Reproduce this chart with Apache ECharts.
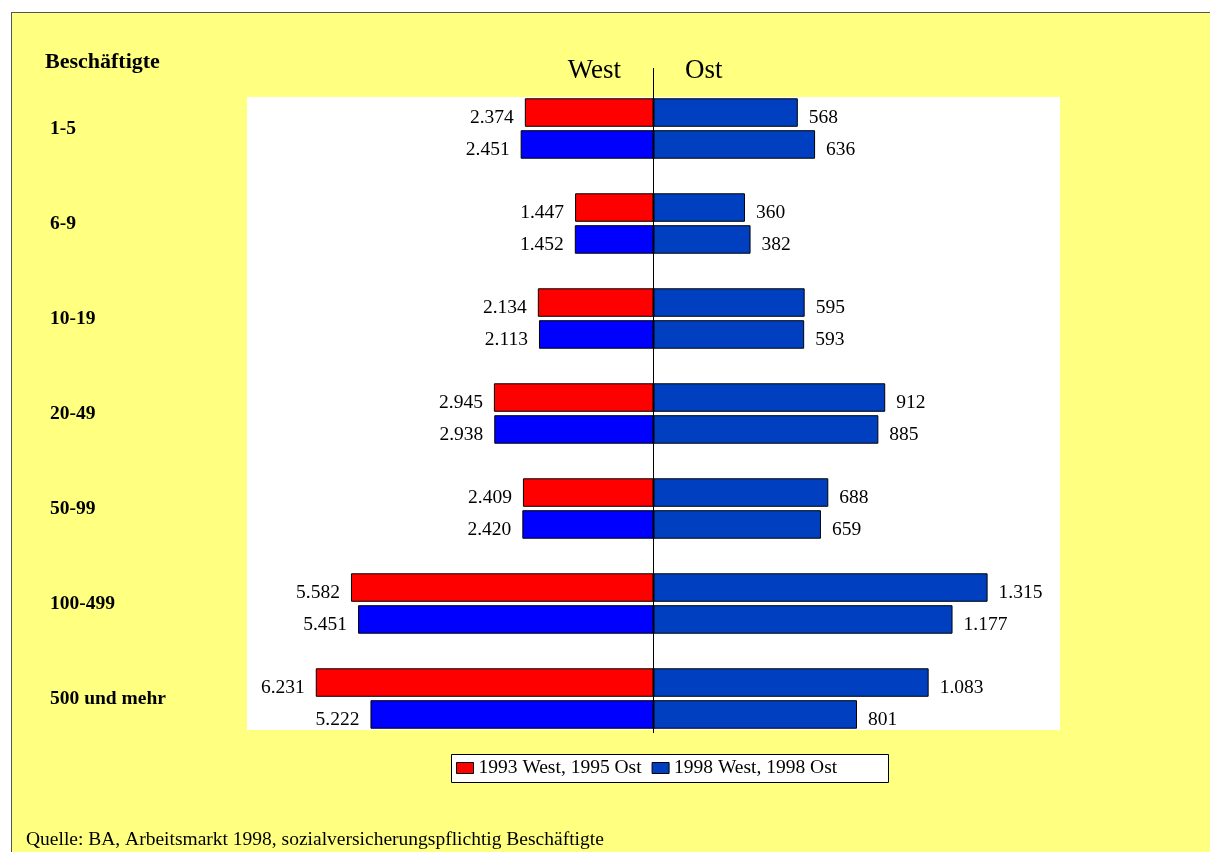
<!DOCTYPE html>
<html>
<head>
<meta charset="utf-8">
<script src="https://cdn.jsdelivr.net/npm/echarts@6/dist/echarts.min.js"></script>
<style>
  html, body { margin: 0; padding: 0; background: #ffffff; }
  #panel {
    position: absolute; left: 11px; top: 12px; right: 0; bottom: 0;
    background: #FFFF80; border-left: 1px solid #555; border-top: 1px solid #555;
  }
  #chart { position: absolute; left: 0; top: 0; width: 1210px; height: 852px; }
</style>
</head>
<body>
<div id="panel"></div>
<div id="chart"></div>
<script>
// Betriebsgrößenklassen (Anzahl Beschäftigte)
const categories = ['1-5', '6-9', '10-19', '20-49', '50-99', '100-499', '500 und mehr'];
// Westdeutschland, Tsd.
const west1993 = [2374, 1447, 2134, 2945, 2409, 5582, 6231];
const west1998 = [2451, 1452, 2113, 2938, 2420, 5451, 5222];
// Ostdeutschland, Tsd.
const ost1995 = [568, 360, 595, 912, 688, 1315, 1083];
const ost1998 = [636, 382, 593, 885, 659, 1177, 801];
const seriesNames = ['1993 West, 1995 Ost', '1998 West, 1998 Ost'];
const westMax = 7500;
const ostMax = 1600;

const FONT = '"Liberation Serif", "Times New Roman", serif';
const RED = '#FF0000';
const BLUE_WEST = '#0000FF';
const BLUE_OST = '#0040C0';

// deutsche Tausendertrennung: 2374 -> 2.374
function fmt(v) {
  return String(v).replace(/\B(?=(\d{3})+(?!\d))/g, '.');
}

const chart = echarts.init(document.getElementById('chart'), null, { renderer: 'canvas' });

const barBase = {
  type: 'bar',
  barWidth: 28.5,
  barGap: '12%',
  itemStyle: { borderColor: '#000', borderWidth: 1 },
  label: {
    show: true,
    distance: 11,
    offset: [0, 5],
    fontFamily: FONT,
    fontSize: 19.5,
    color: '#000',
    formatter: p => fmt(p.value)
  },
  z: 2
};

function bar(name, data, color, axis, side) {
  return Object.assign({}, barBase, {
    name: name,
    data: data,
    xAxisIndex: axis,
    yAxisIndex: axis,
    itemStyle: Object.assign({}, barBase.itemStyle, { color: color }),
    label: Object.assign({}, barBase.label, { position: side })
  });
}

chart.setOption({
  animation: false,
  backgroundColor: 'transparent',
  textStyle: { fontFamily: FONT },
  grid: [
    { left: 247, width: 406.5, top: 81, height: 665 },
    { left: 653.5, width: 406.5, top: 81, height: 665 }
  ],
  xAxis: [
    { gridIndex: 0, type: 'value', inverse: true, min: 0, max: westMax, show: false },
    { gridIndex: 1, type: 'value', min: 0, max: ostMax, show: false }
  ],
  yAxis: [
    {
      gridIndex: 0, type: 'category', data: categories, inverse: true,
      axisLine: { show: false, onZero: false },
      axisTick: { show: false },
      splitLine: { show: false },
      axisLabel: {
        align: 'left', margin: 197, padding: [0, 0, 8, 0],
        fontFamily: FONT, fontSize: 19.5, fontWeight: 'bold', color: '#000'
      }
    },
    {
      gridIndex: 1, type: 'category', data: categories, inverse: true, show: false,
      axisLine: { onZero: false }
    }
  ],
  legend: {
    left: 456, top: 758,
    padding: 0,
    itemWidth: 17, itemHeight: 11, itemGap: 10,
    icon: 'rect',
    selectedMode: false,
    textStyle: { fontFamily: FONT, fontSize: 19.5, color: '#000', padding: [4, 0, 0, 0] },
    data: [
      { name: seriesNames[0], itemStyle: { color: RED, borderColor: '#000', borderWidth: 1 } },
      { name: seriesNames[1], itemStyle: { color: BLUE_OST, borderColor: '#000', borderWidth: 1 } }
    ],
    z: 6
  },
  graphic: [
    { type: 'rect', z: 0, silent: true, shape: { x: 247, y: 97, width: 813, height: 633 }, style: { fill: '#fff' } },
    { type: 'line', z: 10, silent: true, shape: { x1: 653.5, y1: 68, x2: 653.5, y2: 733 }, style: { stroke: '#000', lineWidth: 1 } },
    { type: 'rect', z: 5, silent: true, shape: { x: 451.5, y: 754.5, width: 437, height: 28 }, style: { fill: '#fff', stroke: '#000', lineWidth: 1 } },
    { type: 'text', z: 10, x: 45, y: 62, style: { text: 'Beschäftigte', fontFamily: FONT, fontSize: 22, fontWeight: 'bold', fill: '#000', verticalAlign: 'middle' } },
    { type: 'text', z: 10, x: 621, y: 70.5, style: { text: 'West', fontFamily: FONT, fontSize: 27, fill: '#000', align: 'right', verticalAlign: 'middle' } },
    { type: 'text', z: 10, x: 685, y: 70.5, style: { text: 'Ost', fontFamily: FONT, fontSize: 27, fill: '#000', align: 'left', verticalAlign: 'middle' } },
    { type: 'text', z: 10, x: 26, y: 839.5, style: { text: 'Quelle: BA, Arbeitsmarkt 1998, sozialversicherungspflichtig Beschäftigte', fontFamily: FONT, fontSize: 19.5, fill: '#000', verticalAlign: 'middle' } }
  ],
  series: [
    bar(seriesNames[0], west1993, RED, 0, 'left'),
    bar(seriesNames[1], west1998, BLUE_WEST, 0, 'left'),
    bar(seriesNames[0], ost1995, BLUE_OST, 1, 'right'),
    bar(seriesNames[1], ost1998, BLUE_OST, 1, 'right')
  ]
});
</script>
</body>
</html>
